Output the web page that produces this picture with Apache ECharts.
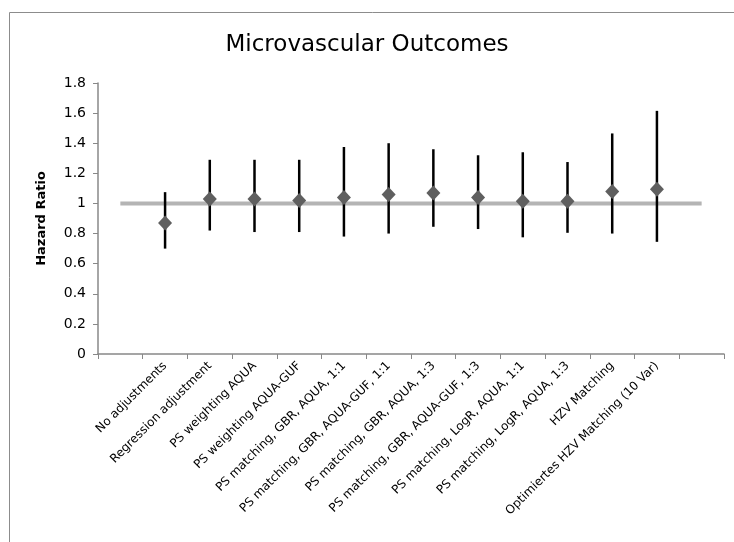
<!DOCTYPE html>
<html>
<head>
<meta charset="utf-8">
<script src="https://cdn.jsdelivr.net/npm/echarts@6/dist/echarts.min.js"></script>
<style>
html,body{margin:0;padding:0;background:#fff;}
#chart{width:734px;height:542px;}
</style>
</head>
<body>
<div id="chart"></div>
<script>
const categories = [
  'No adjustments',
  'Regression adjustment',
  'PS weighting AQUA',
  'PS weighting AQUA-GUF',
  'PS matching, GBR, AQUA, 1:1',
  'PS matching, GBR, AQUA-GUF, 1:1',
  'PS matching, GBR, AQUA, 1:3',
  'PS matching, GBR, AQUA-GUF, 1:3',
  'PS matching, LogR, AQUA, 1:1',
  'PS matching, LogR, AQUA, 1:3',
  'HZV Matching',
  'Optimiertes HZV Matching (10 Var)'
];
const hazardRatio = [0.87, 1.03, 1.03, 1.02, 1.04, 1.06, 1.07, 1.04, 1.015, 1.015, 1.08, 1.095];
const lowerCI     = [0.70, 0.82, 0.81, 0.81, 0.78, 0.80, 0.845, 0.83, 0.775, 0.805, 0.80, 0.745];
const upperCI     = [1.075, 1.29, 1.29, 1.29, 1.375, 1.40, 1.36, 1.32, 1.34, 1.275, 1.465, 1.615];
const referenceValue = 1;
const yTicks = { min: 0, max: 1.8, interval: 0.2 };

// padded axis: one empty slot before and after the data
const axisCats = [''].concat(categories, ['']);
const refLine = axisCats.map(() => referenceValue);
const pointData = hazardRatio.map((v, i) => [i + 1, v]);
const ciData = categories.map((c, i) => [i + 1, lowerCI[i], upperCI[i]]);

const chart = echarts.init(document.getElementById('chart'), null, { renderer: 'canvas' });
const font = '"DejaVu Sans", "Noto Sans", sans-serif';
chart.setOption({
  animation: false,
  backgroundColor: '#ffffff',
  graphic: [{
    type: 'rect', left: 7, top: 10, silent: true,
    shape: { width: 740, height: 560 },
    style: { fill: 'none', stroke: '#8c8c8c', lineWidth: 1 }
  }],
  title: {
    text: 'Microvascular Outcomes',
    left: 'center', top: 29,
    textStyle: { fontFamily: font, fontSize: 23, fontWeight: 'normal', color: '#000' }
  },
  grid: { left: 98, right: 10, top: 83, bottom: 188, containLabel: false },
  xAxis: {
    type: 'category',
    data: axisCats,
    boundaryGap: true,
    axisLine: { lineStyle: { color: '#888', width: 1.5 } },
    axisTick: { show: true, alignWithLabel: false, interval: 0, length: 5, lineStyle: { color: '#888' } },
    axisLabel: {
      interval: 0, rotate: 45, fontFamily: font, fontSize: 12, color: '#000', margin: 10
    },
    splitLine: { show: false }
  },
  yAxis: {
    type: 'value',
    min: yTicks.min, max: yTicks.max, interval: yTicks.interval,
    name: 'Hazard Ratio',
    nameLocation: 'middle', nameGap: 50, nameRotate: 90,
    nameTextStyle: { fontFamily: font, fontSize: 13, fontWeight: 'bold', color: '#000' },
    axisLine: { show: true, lineStyle: { color: '#888', width: 1.5 } },
    axisTick: { show: true, length: 5, lineStyle: { color: '#888' } },
    axisLabel: { fontFamily: font, fontSize: 14, color: '#000', margin: 12 },
    splitLine: { show: false }
  },
  series: [
    {
      type: 'line',
      data: refLine,
      symbol: 'none',
      lineStyle: { color: '#b4b4b4', width: 4 },
      z: 1
    },
    {
      type: 'custom',
      data: ciData,
      z: 2,
      renderItem: function (params, api) {
        const x = api.value(0);
        const lo = api.coord([x, api.value(1)]);
        const hi = api.coord([x, api.value(2)]);
        return {
          type: 'line',
          shape: { x1: lo[0], y1: lo[1], x2: hi[0], y2: hi[1] },
          style: { stroke: '#000', lineWidth: 2.5 }
        };
      },
      encode: { x: 0, y: [1, 2] }
    },
    {
      type: 'scatter',
      data: pointData,
      symbol: 'diamond',
      symbolSize: [14, 15],
      itemStyle: { color: '#5f5f5f', opacity: 1 },
      z: 3
    }
  ]
});
</script>
</body>
</html>
